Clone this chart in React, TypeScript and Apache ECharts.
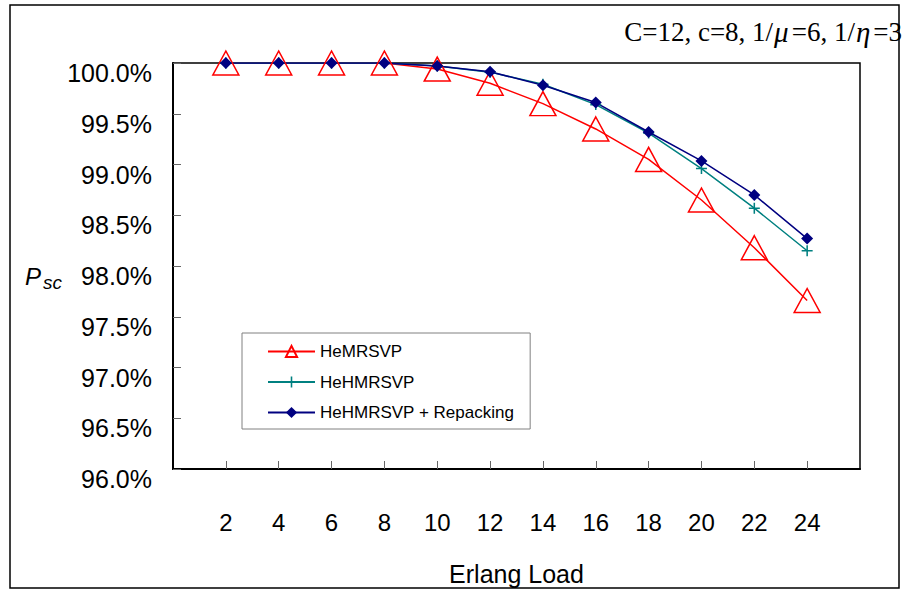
import React, { useEffect, useRef } from "react";
import * as echarts from "echarts";

const erlangLoad = [2, 4, 6, 8, 10, 12, 14, 16, 18, 20, 22, 24];
const heMRSVP = [100, 100, 100, 100, 99.94, 99.8, 99.6, 99.35, 99.05, 98.65, 98.18, 97.66];
const heHMRSVP = [100, 100, 100, 100, 99.97, 99.91, 99.79, 99.59, 99.31, 98.96, 98.57, 98.15];
const heHMRSVPRepacking = [100, 100, 100, 100, 99.97, 99.914, 99.78, 99.61, 99.32, 99.035, 98.7, 98.27];
const seriesNames = ["HeMRSVP", "HeHMRSVP", "HeHMRSVP + Repacking"];
const titleText = "C=12, c=8, 1/{i|μ}=6, 1/{i|η}=3";
const xAxisName = "Erlang Load";

const pair = (ys: number[]) => erlangLoad.map((x, i) => [x, ys[i]]);
const plusPath = "path://M4.3,0H5.7V4.3H10V5.7H5.7V10H4.3V5.7H0V4.3H4.3Z";
const sans = "'Liberation Sans', Arial, sans-serif";
const serif = "'Liberation Serif', 'Times New Roman', serif";

export default function App() {
  const ref = useRef<HTMLDivElement>(null);
  useEffect(() => {
    if (!ref.current) return;
    const chart = echarts.init(ref.current, null, { renderer: "svg" });
    chart.setOption({
      animation: false,
      backgroundColor: "#fff",
      grid: {
        left: 173, right: 44, top: 63, bottom: 121,
        show: true, borderColor: "#000", borderWidth: 1.5,
        containLabel: false, outerBoundsMode: "none",
      },
      xAxis: {
        type: "value", min: 0, max: 26, interval: 2,
        name: xAxisName, nameLocation: "middle", nameGap: 92,
        nameTextStyle: { fontFamily: sans, fontSize: 25, color: "#000" },
        axisLine: { show: true, onZero: false, lineStyle: { color: "#000", width: 2 } },
        axisTick: { show: true, inside: true, length: 8, lineStyle: { color: "#666", width: 1 } },
        axisLabel: { showMinLabel: false, showMaxLabel: false, margin: 41, fontFamily: sans, fontSize: 24, color: "#000" },
        splitLine: { show: false },
      },
      yAxis: {
        type: "value", min: 96, max: 100, interval: 0.5,
        axisLine: { show: true, lineStyle: { color: "#000", width: 2 } },
        axisTick: { show: true, inside: true, length: 8, lineStyle: { color: "#666", width: 1 } },
        axisLabel: {
          margin: 21, fontFamily: sans, fontSize: 25, color: "#000",
          verticalAlign: "top", lineHeight: 20,
          formatter: (v: number) => v.toFixed(1) + "%",
        },
        splitLine: { show: false },
      },
      legend: {
        orient: "vertical", left: 242, top: 333,
        padding: [10, 16, 8, 25], itemGap: 13.5, itemWidth: 47, itemHeight: 14,
        borderColor: "#808080", borderWidth: 1, borderRadius: 0, backgroundColor: "#fff",
        textStyle: { fontFamily: sans, fontSize: 17, color: "#000" },
        data: seriesNames,
      },
      graphic: [
        { type: "rect", shape: { x: 10, y: 5, width: 889, height: 583 }, style: { fill: "none", stroke: "#000", lineWidth: 1.5 }, silent: true },
        {
          type: "text", x: 902, y: 32,
          style: {
            text: titleText, align: "right", verticalAlign: "middle",
            font: `27px ${serif}`, fill: "#000",
            rich: { i: { fontFamily: serif, fontSize: 29, fontStyle: "italic", padding: [0, 3, 0, 1] } },
          },
        },
        { type: "text", x: 25, y: 276, style: { text: "P", font: `italic 24px ${sans}`, fill: "#000", verticalAlign: "middle" } },
        { type: "text", x: 43, y: 282, style: { text: "sc", font: `italic 19px ${sans}`, fill: "#000", verticalAlign: "middle" } },
      ],
      series: [
        {
          name: seriesNames[0], type: "line", data: pair(heMRSVP),
          symbol: "triangle", symbolSize: [26, 24],
          itemStyle: { color: "rgba(255,0,0,0)", borderColor: "#ff0000", borderWidth: 1.5 },
          lineStyle: { color: "#ff0000", width: 1.5 },
        },
        {
          name: seriesNames[1], type: "line", data: pair(heHMRSVP),
          symbol: plusPath, symbolSize: 11,
          itemStyle: { color: "#008080" },
          lineStyle: { color: "#008080", width: 1.5 },
        },
        {
          name: seriesNames[2], type: "line", data: pair(heHMRSVPRepacking),
          symbol: "diamond", symbolSize: 12,
          itemStyle: { color: "#000080" },
          lineStyle: { color: "#000080", width: 1.5 },
        },
      ],
    });
    return () => chart.dispose();
  }, []);
  return <div ref={ref} style={{ position: "fixed", left: 0, top: 0, width: 904, height: 590 }} />;
}
